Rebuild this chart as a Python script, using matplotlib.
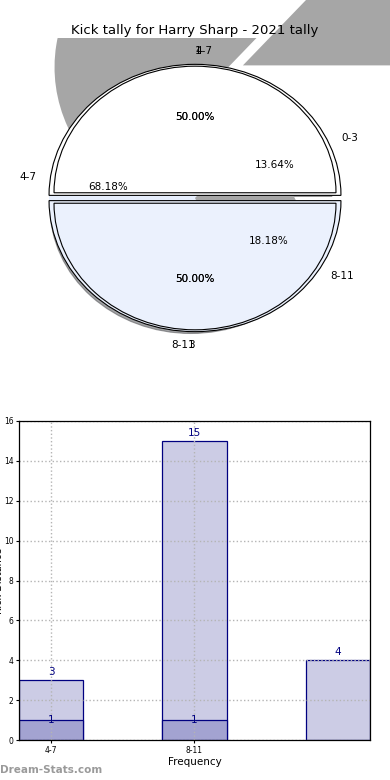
import matplotlib
matplotlib.use('Agg')
import matplotlib.pyplot as plt

# pie data
ranges = ['0-3', '4-7', '8-11']
kicks = [3, 15, 4]
half_labels = ['4-7', '8-11']
half_labels2 = ['1', '3']
halves = [1, 1]

# bar data
bar_ticks = ['4-7', '8-11']
bar_totals = [3, 15, 4]
bar_goals = [1, 1]

title = 'Kick tally for Harry Sharp - 2021 tally'

fig = plt.figure(figsize=(3.9, 7.8), dpi=100)

# ---- pie part ----
ax = fig.add_axes([40/390, 1-358/780, 310/390, 320/780])
txt = {'fontsize': 7.5}

# shadow pie behind everything
grey, _ = ax.pie(kicks, colors=['#a6a6a6', '#a6a6a6', 'none'], radius=1.19,
                 center=(0.28, 0.99), explode=[0.053, 0.053, 0.053],
                 wedgeprops={'linewidth': 0})
grey[1].set_clip_on(True)
grey[1].set_clip_path(ax.patch)

# kick pie (mostly hidden)
wb, tb, pb = ax.pie(kicks, labels=ranges, colors=['none', '#e6eefc', 'none'],
                    autopct='%.2f%%', textprops=txt, wedgeprops={'linewidth': 0})

# two halves, drawn twice
w1, t1, p1 = ax.pie(halves, labels=half_labels, colors=['white', '#ebf1fd'],
                    explode=[0.02, 0.02], autopct='%.2f%%', textprops=txt,
                    wedgeprops={'edgecolor': 'black', 'linewidth': 0.8})
w2, t2, p2 = ax.pie(halves, labels=half_labels2, colors=['white', '#ebf1fd'],
                    explode=[0.04, 0.04], radius=0.966, labeldistance=1.12,
                    autopct='%.2f%%', shadow=True, textprops=txt,
                    wedgeprops={'edgecolor': 'black', 'linewidth': 0.8})
for t in (t1, t2):
    t[0].set_ha('left')
    t[1].set_ha('right')

ax.set_aspect('auto')
ax.set_xlim(-1.062, 1.062)
ax.set_ylim(-1.221, 1.221)
ax.axis('off')
ax.set_title(title, fontsize=9.5, pad=3)

# ---- bar part ----
ax2 = fig.add_axes([19/390, 1-740/780, 351/390, 319/780])
pos = list(range(len(bar_totals)))
w = 0.448
ax2.bar(pos, bar_totals, width=w, color='#ccccE5', edgecolor='#000080', linewidth=0.9)
ax2.bar(pos[:len(bar_goals)], bar_goals, width=w, color='#a3a3d1', edgecolor='#000080',
        linewidth=0.9)
for p, v in zip(pos, bar_totals):
    ax2.text(p, v + 0.15, str(v), ha='center', va='bottom', color='#000080', fontsize=7.5)
for p, v in zip(pos, bar_goals):
    ax2.text(p, v, str(v), ha='center', va='center', color='#000080', fontsize=7.5)

ax2.set_xlim(-w/2, 2 + w/2)
ax2.set_ylim(0, 16)
ax2.set_yticks(range(0, 17, 2))
ax2.set_xticks([0, 1])
ax2.set_xticklabels(bar_ticks)
ax2.tick_params(labelsize=5.5, length=2, pad=2)
ax2.grid(True, linestyle=':', color='#b4b4b4', linewidth=1)
ax2.set_xlabel('Frequency', fontsize=7.5, labelpad=2)
ax2.set_ylabel('Kick Distance', fontsize=7)
ax2.yaxis.set_label_coords(-0.043, 0.5)
for s in ax2.spines.values():
    s.set_linewidth(0.9)

fig.text(0.0, 1-770/780, 'Dream-Stats.com', color='#9a9a9a', fontsize=7.5,
         fontweight='bold', va='center')

fig.savefig('out.png', dpi=100)
